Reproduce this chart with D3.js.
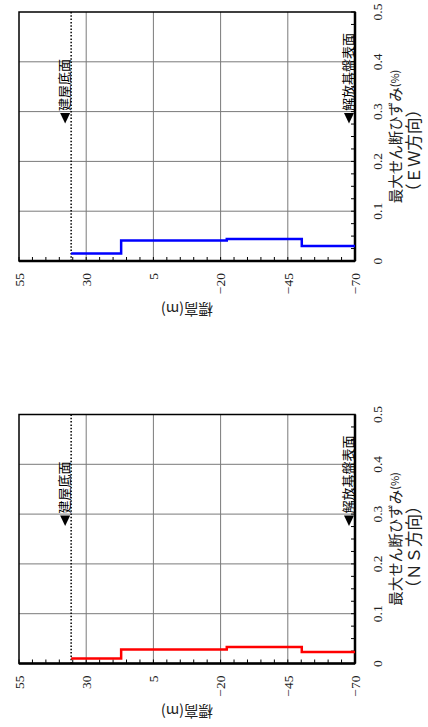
<!DOCTYPE html>
<html><head><meta charset="utf-8">
<script src="https://cdn.jsdelivr.net/npm/d3@7"></script>
<style>body{margin:0;background:#fff}</style>
</head><body>
<svg id="c" width="428" height="727"></svg>
<script>
// ---- data ----
const elevationTicks = [55, 30, 5, -20, -45, -70];
const strainTicks = [0, 0.1, 0.2, 0.3, 0.4, 0.5];
const layerBounds = [35.6, 17, -22.3, -50.2, -70];   // elevation (m) of layer boundaries
const ewStrain = [0.015, 0.041, 0.044, 0.030];        // max shear strain (%) EW
const nsStrain = [0.010, 0.028, 0.033, 0.023];        // max shear strain (%) NS
const markerElevs = [35.6, -70];
const markerLabels = ["建屋底面", "解放基盤表面"];
const markerStrain = 0.287;
const panelNames = ["（ＥＷ方向）", "（ＮＳ方向）"];
const panelColors = ["#0000ff", "#ff0000"];
const panelValues = [ewStrain, nsStrain];

// ---- layout (drawn in original orientation, then rotated -90deg) ----
const W = 249, H = 336;
const panelOrigins = [[19, 261], [19, 663.5]];
const serif = "'Liberation Serif','DejaVu Serif',serif";
const jp = "'Noto Sans CJK JP','Noto Sans CJK SC',sans-serif";

const svg = d3.select("#c");
const x = d3.scaleLinear().domain([0, 0.5]).range([0, W]);
const y = d3.scaleLinear().domain([55, -70]).range([0, H]);

panelValues.forEach((vals, p) => {
  const g = svg.append("g")
    .attr("transform", `translate(${panelOrigins[p][0]},${panelOrigins[p][1]}) rotate(-90)`);

  // grid
  g.append("g").selectAll("line").data(strainTicks.slice(1, -1)).join("line")
    .attr("x1", d => x(d)).attr("x2", d => x(d)).attr("y1", 0).attr("y2", H)
    .attr("stroke", "#7a7a7a").attr("stroke-width", 1);
  g.append("g").selectAll("line").data(elevationTicks.slice(1, -1)).join("line")
    .attr("y1", d => y(d)).attr("y2", d => y(d)).attr("x1", 0).attr("x2", W)
    .attr("stroke", "#7a7a7a").attr("stroke-width", 1);

  // minor ticks (inward)
  const elevMinor = d3.range(55, -70.01, -5);
  g.append("g").selectAll("line").data(elevMinor).join("line")
    .attr("y1", d => y(d)).attr("y2", d => y(d)).attr("x1", 0).attr("x2", 4)
    .attr("stroke", "#000").attr("stroke-width", 1);
  const strainMinor = d3.range(0, 0.5001, 0.025);
  g.append("g").selectAll("line").data(strainMinor).join("line")
    .attr("x1", d => x(d)).attr("x2", d => x(d)).attr("y1", H).attr("y2", H - 4)
    .attr("stroke", "#000").attr("stroke-width", 1);

  // frame
  g.append("rect").attr("x", 0).attr("y", 0).attr("width", W).attr("height", H)
    .attr("fill", "none").attr("stroke", "#000").attr("stroke-width", 1.5);
  g.append("line").attr("x1", 0).attr("x2", W).attr("y1", H).attr("y2", H)
    .attr("stroke", "#000").attr("stroke-width", 2.5);
  g.append("line").attr("x1", 0).attr("x2", 0).attr("y1", 0).attr("y2", H)
    .attr("stroke", "#000").attr("stroke-width", 2.5);

  // building base dotted line
  g.append("line").attr("x1", 0).attr("x2", W)
    .attr("y1", y(markerElevs[0])).attr("y2", y(markerElevs[0]))
    .attr("stroke", "#000").attr("stroke-width", 1.5).attr("stroke-dasharray", "1.5,1.8");

  // markers: triangle (points down on the page) + label
  const mx = x(markerStrain);
  g.append("g").selectAll("path").data(markerElevs).join("path")
    .attr("d", d => {
      const yl = y(d) - 1;
      return `M${mx + 5},${yl - 10}L${mx + 5},${yl}L${mx - 5.5},${yl - 5}Z`;
    })
    .attr("fill", "#000");
  g.append("g").selectAll("text").data(markerElevs).join("text")
    .attr("x", mx + 7).attr("y", d => y(d) - 2)
    .attr("font-family", jp).attr("font-size", 13).attr("fill", "#000")
    .text((d, i) => markerLabels[i]);

  // step line
  const pts = [];
  vals.forEach((v, i) => { pts.push([v, layerBounds[i]]); pts.push([v, layerBounds[i + 1]]); });
  g.append("path").datum(pts)
    .attr("d", d3.line().x(d => x(d[0])).y(d => y(d[1])))
    .attr("fill", "none").attr("stroke", panelColors[p]).attr("stroke-width", 2.5);

  // tick labels
  g.append("g").selectAll("text").data(strainTicks).join("text")
    .attr("x", d => x(d)).attr("y", H + 27).attr("text-anchor", "middle")
    .attr("font-family", serif).attr("font-size", 13.5).attr("fill", "#222")
    .text(d => d === 0 ? "0" : d3.format(".1f")(d));
  g.append("g").selectAll("text").data(elevationTicks).join("text")
    .attr("x", -12).attr("y", d => y(d)).attr("dy", "0.35em").attr("text-anchor", "end")
    .attr("font-family", serif).attr("font-size", 13.5).attr("fill", "#222")
    .text(d => d < 0 ? "−" + Math.abs(d) : d);

  // axis titles
  const t = g.append("text").attr("x", W / 2).attr("y", H + 38.5)
    .attr("text-anchor", "middle").attr("dominant-baseline", "central")
    .attr("font-family", jp).attr("font-size", 14.5).attr("fill", "#222");
  t.append("tspan").text("最大せん断ひずみ");
  t.append("tspan").attr("font-size", 11).text("(%)");
  g.append("text").attr("x", p === 0 ? W / 2 - 14 : W / 2 - 8).attr("y", H + 58)
    .attr("text-anchor", "middle").attr("dominant-baseline", "central")
    .attr("font-family", jp).attr("font-size", 16.5).attr("fill", "#222")
    .text(panelNames[p]);
  g.append("text").attr("transform", `translate(-49,${H / 2}) rotate(-90)`)
    .attr("text-anchor", "middle").attr("dominant-baseline", "central")
    .attr("font-family", jp).attr("font-size", 14.5).attr("fill", "#222")
    .text("標高(m)");
});
</script>
</body></html>
